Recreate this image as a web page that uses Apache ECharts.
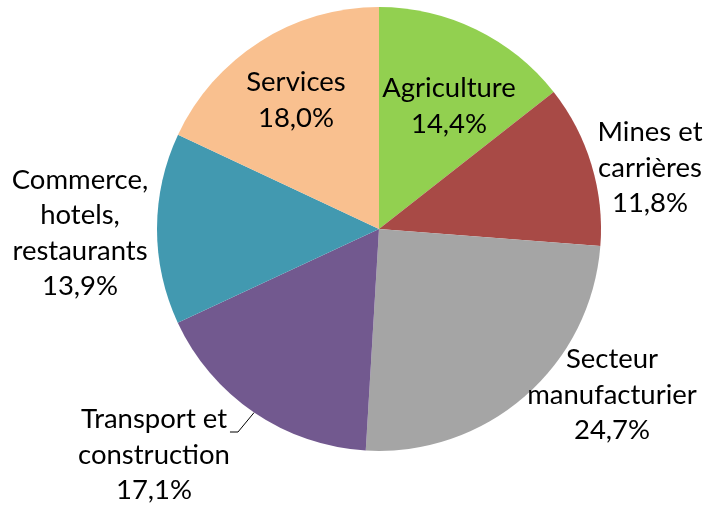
<!DOCTYPE html>
<html><head><meta charset="utf-8">
<script src="https://cdn.jsdelivr.net/npm/echarts@6/dist/echarts.min.js"></script>
<style>html,body{margin:0;padding:0;background:#fff}#c{width:704px;height:507px}</style>
</head><body><div id="c"></div>
<script>
const categories = ["Agriculture", "Mines et\ncarrières", "Secteur\nmanufacturier", "Transport et\nconstruction", "Commerce,\nhotels,\nrestaurants", "Services"];
const shares = [14.4, 11.8, 24.7, 17.1, 13.9, 18.0];
const colors = ["#92D050", "#A84A46", "#A5A5A5", "#72598F", "#4299B0", "#F9C08F"];
const labelCenters = [[449, 106], [650, 168], [612, 395], [154, 432], [80, 233], [296, 100]];

const chart = echarts.init(document.getElementById('c'), null, {renderer: 'canvas'});
const fmt = p => p.name + '\n' + p.value.toFixed(1).replace('.', ',') + '%';
chart.setOption({
  animation: false,
  series: [{
    type: 'pie',
    center: [379, 229],
    radius: 222,
    startAngle: 90,
    clockwise: true,
    avoidLabelOverlap: false,
    data: categories.map((n, i) => ({
      name: n, value: shares[i],
      itemStyle: {color: colors[i]},
      labelLine: {show: i === 3}
    })),
    label: {
      show: true,
      position: 'outside',
      fontFamily: 'Lato',
      fontSize: 27.5,
      lineHeight: 35.5,
      color: '#000',
      align: 'center',
      formatter: p => p.dataIndex === 3 ? '{pad| }\n' + fmt(p) : fmt(p),
      rich: {pad: {lineHeight: 46, height: 46, fontSize: 10}}
    },
    labelLine: {lineStyle: {color: '#000', width: 1}, length: 10, length2: 8},
    labelLayout: function (p) {
      const c = labelCenters[p.dataIndex];
      return {x: c[0], y: c[1], align: 'center', verticalAlign: 'middle'};
    }
  }]
});
</script></body></html>
